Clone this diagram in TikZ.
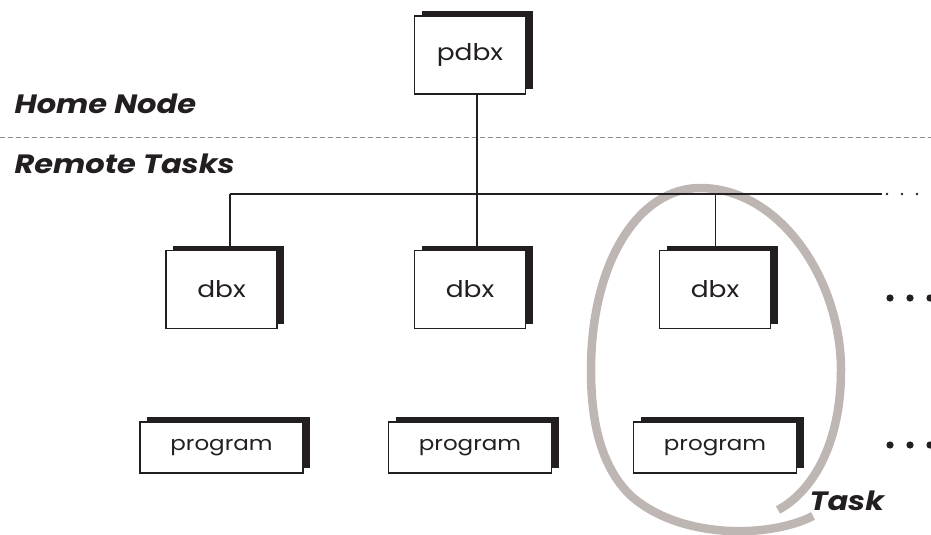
\documentclass[tikz,border=0pt]{standalone}
\usepackage{fontspec}
\setmainfont{Poppins}[FakeStretch=1.15]
\usetikzlibrary{shadows}
\definecolor{tkInk}{HTML}{231F20}
\definecolor{tkRing}{HTML}{BEB6B2}
\definecolor{tkDash}{HTML}{8C8C8C}

\begin{document}
\begin{tikzpicture}[x=1pt,y=-1pt,
  box/.style={draw=tkInk,line width=1.8pt,fill=white,inner sep=0pt,text=tkInk,
    general shadow={fill=tkInk,shadow xshift=7pt,shadow yshift=5pt}},
  dbxbox/.style={box,minimum width=111pt,minimum height=78pt,font=\fontsize{23}{27}\selectfont},
  progbox/.style={box,minimum width=163pt,minimum height=51pt,font=\fontsize{20}{24}\selectfont},
  lbl/.style={anchor=base west,text=tkInk,font=\fontsize{26.5}{31}\selectfont\bfseries\itshape},
  wire/.style={tkInk,line width=2pt}]
  \useasboundingbox (0,0) rectangle (931,535);
  % the task ring
  \draw[tkRing,line width=8.5pt] (813,516)
    .. controls (770,538) and (680,540) .. (630,495)
    .. controls (600,465) and (591,420) .. (591,370)
    .. controls (591,260) and (640,188) .. (700,188)
    .. controls (780,188) and (841,280) .. (841,370)
    .. controls (841,440) and (815,490) .. (778,510);
  % home node / remote tasks
  \draw[tkDash,dash pattern=on 5pt off 3pt,line width=0.8pt] (0,137) -- (931,137);
  \node[lbl] (home) at (11,113) {Home Node};
  \node[lbl] (remote) at (11,173) {Remote Tasks};
  \node[lbl] (task) at (806,510) {Task};
  % boxes
  \node[dbxbox] (pdbx) at (470,55) {pdbx};
  \foreach \n/\x in {A/221.5,B/470,C/715} {
    \node[dbxbox] (dbx\n) at (\x,289.5) {dbx};
    \node[progbox] (prog\n) at (\x,447.5) {program};
  }
  % bus
  \coordinate (busL) at (230,194);
  \coordinate (busR) at (882,194);
  \draw[wire] (busL) -- (busR);
  \draw[wire] (busL) -- (busL |- dbxA.north);
  \draw[wire] ([xshift=7pt]pdbx.south) -- ([xshift=7pt]dbxB.north);
  \draw[tkInk,line width=1pt] (dbxC.north |- busL) -- (dbxC.north);
  % more tasks
  \foreach \x in {887,902,917} {\fill[tkInk] (\x,194) circle (1.4pt);}
  \foreach \x in {890,910,930} {
    \fill[tkInk] (\x,298) circle (3.6pt);
    \fill[tkInk] (\x,445) circle (3.6pt);
  }
\end{tikzpicture}
\end{document}
